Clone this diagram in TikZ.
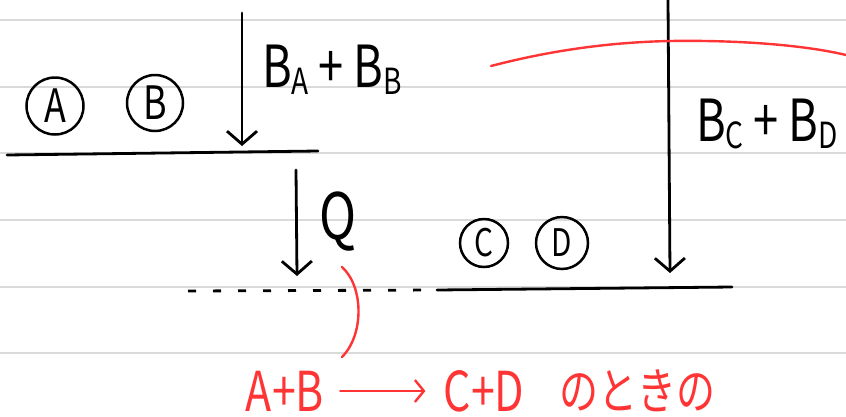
\documentclass[tikz,border=0pt]{standalone}
\usepackage{fontspec}
\setmainfont{Noto Sans CJK JP}
\newfontfamily\hand[FakeStretch=0.78]{Noto Sans CJK JP}
\usetikzlibrary{arrows.meta}
\definecolor{rulegrey}{HTML}{DADADA}
\definecolor{penred}{HTML}{FF3535}
\newcommand\lowsub[1]{\raisebox{-0.12em}{\fontsize{36}{36}\selectfont #1}}
\tikzset{
  rule/.style={rulegrey, line width=2.2pt},
  pen/.style={black, line width=2.8pt, line cap=round},
  arr/.style={pen, -{Straight Barb[length=13pt,width=30pt,line width=2.8pt]}},
  circled/.style={circle, draw, line width=2.5pt, inner sep=0pt, minimum size=#1},
  biglbl/.style={font=\hand\fontsize{58}{58}\selectfont, inner sep=0pt},
  redtxt/.style={penred, font=\hand\fontsize{55}{55}\selectfont, inner sep=0pt, text height=40pt, text depth=0pt},
  redjp/.style={penred, font=\hand\fontsize{50}{50}\selectfont, inner sep=0pt, text height=40pt, text depth=3pt},
  redpen/.style={penred, line width=2.4pt, line cap=round},
}
\begin{document}
\begin{tikzpicture}[x=1pt,y=-1pt]
  \fill[white] (0,0) rectangle (846,416);
  \useasboundingbox (0,0) rectangle (846,416);
  % ruled paper
  \foreach \yy in {20,87,153,220,287,353}
    \draw[rule] (0,\yy) -- (846,\yy);
  % circled species
  \node[circled=57pt, font=\hand\fontsize{46}{46}\selectfont] (A) at (55,106) {A};
  \node[circled=56pt, font=\hand\fontsize{46}{46}\selectfont] (B) at (155,103) {B};
  \node[circled=48pt, font=\hand\fontsize{38}{38}\selectfont] (C) at (484,243) {C};
  \node[circled=52pt, font=\hand\fontsize{38}{38}\selectfont] (D) at (562,243) {D};
  % level lines
  \coordinate (l1a) at (7,155);
  \coordinate (l1b) at (318,151);
  \draw[pen] (l1a) -- (l1b);
  \coordinate (l2a) at (188,291);
  \coordinate (l2b) at (437,290);
  \coordinate (l2c) at (732,287);
  \draw[pen, dash pattern=on 8pt off 17pt, line cap=butt] (l2a) -- (l2b);
  \draw[pen] (l2b) -- (l2c);
  % arrows
  \coordinate (a1s) at (242,13);
  \coordinate (a1e) at (242,146);
  \draw[arr] (a1s) -- (a1e);
  \coordinate (a2s) at (296,170);
  \coordinate (a2e) at (297,276);
  \draw[arr] (a2s) -- (a2e);
  \coordinate (a3s) at (668,0);
  \coordinate (a3e) at (670,273);
  \draw[arr] (a3s) -- (a3e);
  % labels
  \node[biglbl, anchor=west] (lab1) at (262,70) {B\lowsub{A}\,+\,B\lowsub{B}};
  \node[biglbl, font=\hand\fontsize{64}{64}\selectfont] (Q) at (338,222) {Q};
  \node[biglbl, anchor=west] (lab2) at (696,124) {B\lowsub{C}\,+\,B\lowsub{D}};
  % red annotations
  \draw[redpen] (491,66) .. controls (560,48) and (620,42) .. (670,41)
                .. controls (730,40) and (800,44) .. (846,55);
  \draw[redpen] (342,267) .. controls (364,287) and (364,335) .. (342,357);
  \node[redtxt] (r1) at (285,391) {A+B};
  \node[redtxt] (r2) at (484,391) {C+D};
  \node[redjp] (r3) at (637,391) {のときの};
  \draw[redpen, -{Straight Barb[length=9pt,width=22pt,line width=2.4pt]}]
       ([xshift=16pt]r1.east) -- ([xshift=-18pt]r2.west);
\end{tikzpicture}
\end{document}
